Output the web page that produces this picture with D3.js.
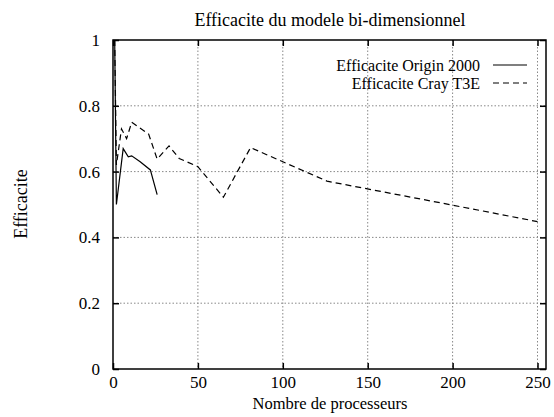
<!DOCTYPE html>
<html>
<head>
<meta charset="utf-8">
<script src="https://cdn.jsdelivr.net/npm/d3@7"></script>
<style>
  body { margin: 0; background: #fff; }
  text { font-family: "Liberation Serif", "Times New Roman", serif; fill: #000; }
</style>
</head>
<body>
<div id="chart"></div>
<script>
/* data */
const originProcs = [1, 2, 6, 9, 11, 16, 22, 26];
const originEff   = [1.0, 0.50, 0.67, 0.645, 0.648, 0.63, 0.605, 0.53];
const crayProcs   = [1, 2, 5, 8, 11, 21, 26, 33, 39, 50, 65, 81, 126, 200, 250];
const crayEff     = [1.0, 0.62, 0.73, 0.70, 0.75, 0.714, 0.638, 0.678, 0.64, 0.615, 0.522, 0.673, 0.571, 0.498, 0.448];
const xTicks = [0, 50, 100, 150, 200, 250];
const yTicks = [0, 0.2, 0.4, 0.6, 0.8, 1];
const seriesNames = ["Efficacite Origin 2000", "Efficacite Cray T3E"];

/* dimensions */
const W = 554, H = 417;
const margin = { top: 40, right: 8, bottom: 48, left: 113 };
const width = W - margin.left - margin.right,
      height = H - margin.top - margin.bottom;

const svg = d3.select("#chart").append("svg")
    .attr("width", W).attr("height", H);
const g = svg.append("g")
    .attr("transform", `translate(${margin.left},${margin.top})`);

const x = d3.scaleLinear().domain([0, 255]).range([0, width]);
const y = d3.scaleLinear().domain([0, 1]).range([height, 0]);

// grid (dotted)
g.append("g").selectAll("line").data(xTicks.filter(d => d > 0)).enter()
  .append("line")
  .attr("x1", d => x(d)).attr("x2", d => x(d))
  .attr("y1", 0).attr("y2", height)
  .style("stroke", "#888").style("stroke-width", 1).style("stroke-dasharray", "1.5,2");
g.append("g").selectAll("line").data(yTicks.filter(d => d > 0 && d < 1)).enter()
  .append("line")
  .attr("x1", 0).attr("x2", width)
  .attr("y1", d => y(d)).attr("y2", d => y(d))
  .style("stroke", "#888").style("stroke-width", 1).style("stroke-dasharray", "1.5,2");

// axes with inward ticks, mirrored
const fmtY = d => d === 0 || d === 1 ? d3.format("d")(d) : d3.format(".1f")(d);
const axB = g.append("g").attr("transform", `translate(0,${height})`)
  .call(d3.axisBottom(x).tickValues(xTicks).tickSizeInner(-6).tickSizeOuter(0).tickPadding(7));
const axL = g.append("g")
  .call(d3.axisLeft(y).tickValues(yTicks).tickFormat(fmtY).tickSizeInner(-6).tickSizeOuter(0).tickPadding(13));
const axT = g.append("g")
  .call(d3.axisTop(x).tickValues(xTicks).tickSizeInner(-6).tickSizeOuter(0).tickFormat(""));
const axR = g.append("g").attr("transform", `translate(${width},0)`)
  .call(d3.axisRight(y).tickValues(yTicks).tickSizeInner(-6).tickSizeOuter(0).tickFormat(""));
[axB, axL, axT, axR].forEach(a => {
  a.select(".domain").remove();
  a.selectAll(".tick line").style("stroke", "#000").style("stroke-width", 1.5);
  a.selectAll("text").style("font-family", "Liberation Serif, serif").style("font-size", "17px").style("fill", "#000");
});

// border
g.append("rect").attr("x", 0).attr("y", 0).attr("width", width).attr("height", height)
  .style("fill", "none").style("stroke", "#000").style("stroke-width", 1.5);

// series
const line = d3.line().x(d => x(d[0])).y(d => y(d[1]));
const originData = originProcs.map((p, i) => [p, originEff[i]]);
const crayData = crayProcs.map((p, i) => [p, crayEff[i]]);

g.append("path").datum(originData).attr("d", line)
  .style("fill", "none").style("stroke", "#000").style("stroke-width", 1.2);
g.append("path").datum(crayData).attr("d", line)
  .style("fill", "none").style("stroke", "#000").style("stroke-width", 1.2)
  .style("stroke-dasharray", "6,4");

// legend
const legend = svg.append("g");
seriesNames.forEach((name, i) => {
  const ly = 65 + i * 18;
  legend.append("text").attr("x", 480).attr("y", ly + 6)
    .attr("text-anchor", "end").style("font-size", "16px").text(name);
  legend.append("line").attr("x1", 493).attr("x2", 527).attr("y1", ly).attr("y2", ly)
    .style("stroke", "#000").style("stroke-width", 1.2)
    .style("stroke-dasharray", i === 1 ? "6,4" : null);
});

// titles
svg.append("text").attr("x", 330).attr("y", 26).attr("text-anchor", "middle")
  .style("font-size", "18px").text("Efficacite du modele bi-dimensionnel");
svg.append("text").attr("x", 330).attr("y", 409).attr("text-anchor", "middle")
  .style("font-size", "16.5px").text("Nombre de processeurs");
svg.append("text").attr("transform", "translate(27,204) rotate(-90)")
  .attr("text-anchor", "middle").style("font-size", "18px").text("Efficacite");
</script>
</body>
</html>
